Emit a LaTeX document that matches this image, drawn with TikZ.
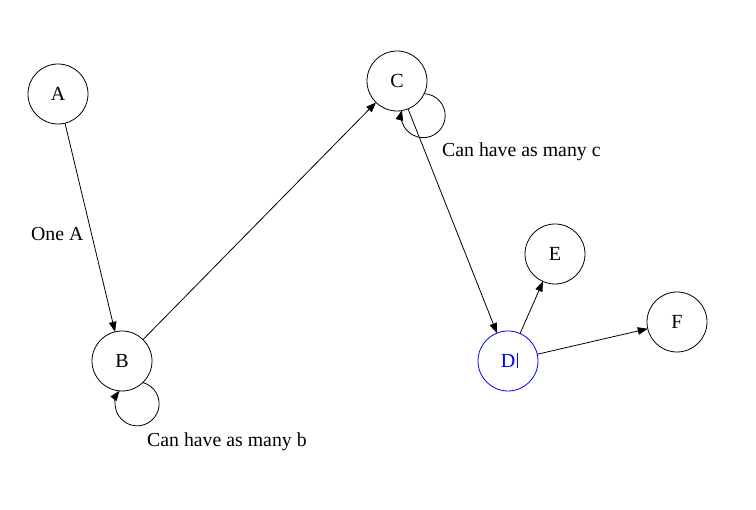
\documentclass[tikz,border=0pt]{standalone}
\usepackage{fontspec}
\setmainfont{Liberation Serif}
\usetikzlibrary{arrows.meta}
\begin{document}
\begin{tikzpicture}[x=1pt,y=1pt,
  statenode/.style={circle,draw,line width=0.8pt,minimum size=60pt,inner sep=0pt,outer sep=0pt,font=\fontsize{20}{22}\selectfont},
  arr/.style={line width=0.8pt,-{Triangle[length=10pt,width=7.5pt]}},
  lbl/.style={anchor=base west,inner sep=0pt,font=\fontsize{19.8}{22}\selectfont}]
\useasboundingbox (0,0) rectangle (756,-510);
\node[statenode] (A) at (58,-94) {A};
\node[statenode] (B) at (122,-361) {B};
\node[statenode] (C) at (397,-81) {C};
\node[statenode,draw=blue,text=blue] (D) at (508,-361) {D};
\node[statenode] (E) at (555,-254) {E};
\node[statenode] (F) at (677,-322) {F};
\draw[blue,line width=0.6pt] ([xshift=9pt,yshift=7.5pt]D.center) -- ([xshift=9pt,yshift=-7.5pt]D.center);
\draw[arr] (A) -- (B);
\draw[arr] (B) -- (C);
\draw[arr] (C) -- (D);
\draw[arr] (D) -- (E);
\draw[arr] (D) -- (F);
\draw[arr] (C.-25.8) arc[start angle=87.4,end angle=-194.2,radius=22pt];
\draw[arr] (B.-46.4) arc[start angle=75,end angle=-216.5,radius=22pt];
\node[lbl] (la) at (31,-241) {One A};
\node[lbl] (lc) at (442,-157) {Can have as many c};
\node[lbl] (lb) at (147,-447) {Can have as many b};
\end{tikzpicture}
\end{document}
